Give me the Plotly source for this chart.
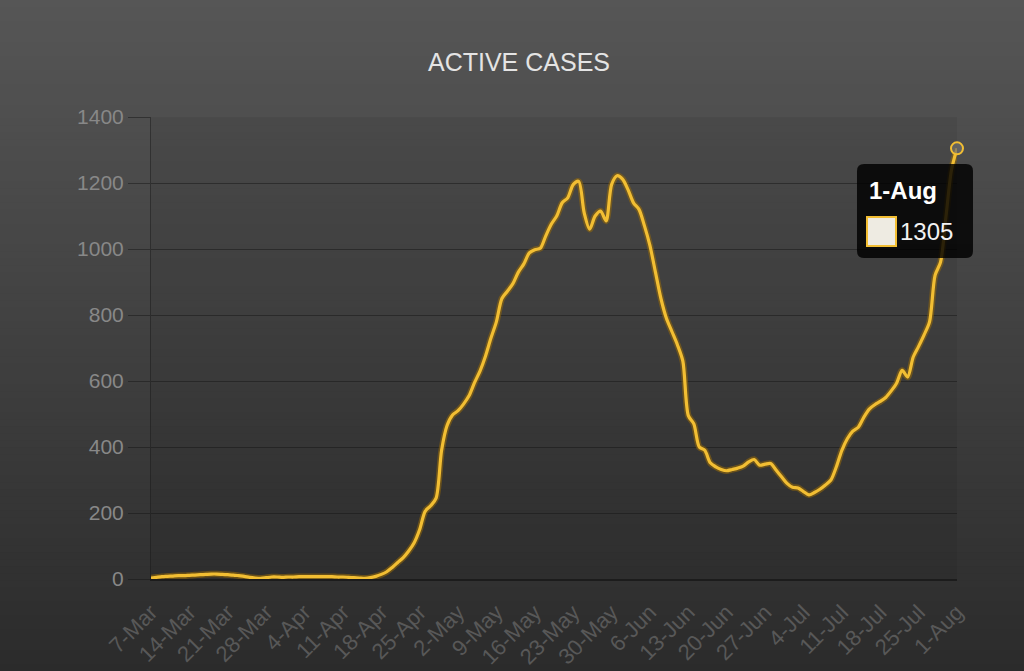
import plotly.graph_objects as go
import pandas as pd

# ---------------- data ----------------
start_date = "2020-03-07"
end_date = "2020-08-01"

active_cases = [
    3, 5, 7, 8, 9, 10, 10,                    # 7-Mar .. 13-Mar
    11, 12, 13, 14, 15, 15, 14,               # 14-Mar .. 20-Mar
    13, 12, 10, 8, 5, 3, 2,                   # 21-Mar .. 27-Mar
    4, 6, 6, 5, 6, 6, 7,                      # 28-Mar .. 3-Apr
    7, 7, 7, 7, 7, 7, 6,                      # 4-Apr .. 10-Apr
    6, 5, 4, 3, 2, 4, 8,                      # 11-Apr .. 17-Apr
    14, 22, 35, 50, 65, 85, 110,              # 18-Apr .. 24-Apr
    150, 205, 222, 245, 390, 465, 497,        # 25-Apr .. 1-May
    510, 530, 555, 595, 630, 675, 730,        # 2-May .. 8-May
    780, 850, 872, 895, 930, 955, 988,        # 9-May .. 15-May
    998, 1002, 1040, 1075, 1100, 1140, 1155,  # 16-May .. 22-May
    1195, 1205, 1110, 1060, 1100, 1115, 1085, # 23-May .. 29-May
    1195, 1222, 1212, 1180, 1140, 1120, 1070, # 30-May .. 5-Jun
    1010, 930, 850, 790, 750, 710, 660,       # 6-Jun .. 12-Jun
    495, 470, 400, 390, 352, 340, 332,        # 13-Jun .. 19-Jun
    328, 332, 336, 342, 355, 362, 345,        # 20-Jun .. 26-Jun
    348, 350, 330, 310, 290, 278, 276,        # 27-Jun .. 3-Jul
    265, 255, 262, 272, 285, 300, 340,        # 4-Jul .. 10-Jul
    390, 425, 448, 460, 490, 515, 528,        # 11-Jul .. 17-Jul
    538, 550, 570, 594, 632, 612, 672,        # 18-Jul .. 24-Jul
    705, 740, 780, 920, 960, 1100, 1240, 1305 # 25-Jul .. 1-Aug
]

tick_labels = ["7-Mar", "14-Mar", "21-Mar", "28-Mar", "4-Apr", "11-Apr",
               "18-Apr", "25-Apr", "2-May", "9-May", "16-May", "23-May",
               "30-May", "6-Jun", "13-Jun", "20-Jun", "27-Jun", "4-Jul",
               "11-Jul", "18-Jul", "25-Jul", "1-Aug"]
y_ticks = [0, 200, 400, 600, 800, 1000, 1200, 1400]

chart_title = "ACTIVE CASES"
tooltip_label = "1-Aug"
tooltip_value = "1305"

dates = pd.date_range(start_date, end_date, freq="D")
tick_dates = list(dates[::7])

# ---------------- geometry / style ----------------
W, H = 1024, 671
ML, MR, MT, MB = 151, 67, 117, 92
PW, PH = W - ML - MR, H - MT - MB

def px2x(px):
    return (px - ML) / PW

def py2y(py):
    return (H - MB - py) / PH

LINE = "#F2BE33"
GRID = "rgba(22,22,22,0.5)"
FONT = "Liberation Sans, Arial"

shapes = []
# vertical background gradient (whole page)
n_bands = 96
band_h = H / n_bands
top_g, bot_g = 86, 43
for i in range(n_bands):
    t = (i + 0.5) / n_bands
    g = round(top_g + (bot_g - top_g) * t)
    shapes.append(dict(
        type="rect", xref="paper", yref="paper", layer="below",
        x0=px2x(-5), x1=px2x(W + 5),
        y0=py2y(i * band_h + band_h + 1), y1=py2y(i * band_h - (1 if i == 0 else 0)),
        fillcolor=f"rgb({g},{g},{g})", line=dict(width=0)))
# slightly darker plot area
shapes.append(dict(type="rect", xref="paper", yref="paper", layer="below",
                   x0=0, x1=1, y0=0, y1=1,
                   fillcolor="rgba(0,0,0,0.06)", line=dict(width=0)))

# tooltip box (rounded rect, built in pixel space then mapped to paper)
def rounded_rect(x0, y0, x1, y1, r):
    pts = [
        ("M", [(x0 + r, y0)]),
        ("L", [(x1 - r, y0)]),
        ("Q", [(x1, y0), (x1, y0 + r)]),
        ("L", [(x1, y1 - r)]),
        ("Q", [(x1, y1), (x1 - r, y1)]),
        ("L", [(x0 + r, y1)]),
        ("Q", [(x0, y1), (x0, y1 - r)]),
        ("L", [(x0, y0 + r)]),
        ("Q", [(x0, y0), (x0 + r, y0)]),
    ]
    s = ""
    for cmd, pp in pts:
        s += cmd + " ".join(f"{px2x(a):.5f},{py2y(b):.5f}" for a, b in pp) + " "
    return s + "Z"

shapes.append(dict(type="path", xref="paper", yref="paper", layer="above",
                   path=rounded_rect(857, 164, 973, 258, 7),
                   fillcolor="rgba(0,0,0,0.82)", line=dict(width=0)))
shapes.append(dict(type="rect", xref="paper", yref="paper", layer="above",
                   x0=px2x(867), x1=px2x(896), y0=py2y(246), y1=py2y(217),
                   fillcolor="#EEEBE2", line=dict(color=LINE, width=2)))

annotations = [
    dict(text=chart_title, xref="paper", yref="paper",
         x=px2x(519), y=py2y(62), xanchor="center", yanchor="middle",
         showarrow=False, font=dict(family=FONT, size=25, color="#E4E4E4")),
    dict(text=f"<b>{tooltip_label}</b>", xref="paper", yref="paper",
         x=px2x(867), y=py2y(190), xanchor="left", yanchor="middle",
         showarrow=False, font=dict(family=FONT, size=24, color="#FFFFFF")),
    dict(text=tooltip_value, xref="paper", yref="paper",
         x=px2x(898), y=py2y(231), xanchor="left", yanchor="middle",
         showarrow=False, font=dict(family=FONT, size=24, color="#F2F2F2")),
]

fig = go.Figure()
# soft glow under the line
fig.add_trace(go.Scatter(
    x=dates, y=active_cases, mode="lines",
    line=dict(color="rgba(150,105,10,0.55)", width=6.5, shape="spline", smoothing=0.8),
    hoverinfo="skip", cliponaxis=False, showlegend=False))
fig.add_trace(go.Scatter(
    x=dates, y=active_cases, mode="lines",
    line=dict(color=LINE, width=3.2, shape="spline", smoothing=0.8),
    hoverinfo="skip", cliponaxis=False, showlegend=False))
# hovered point marker
fig.add_trace(go.Scatter(
    x=[dates[-1]], y=[active_cases[-1]], mode="markers",
    marker=dict(symbol="circle", size=12, color="rgba(110,110,110,0.7)",
                line=dict(color=LINE, width=2)),
    hoverinfo="skip", cliponaxis=False, showlegend=False))

fig.update_layout(
    width=W, height=H, autosize=False,
    margin=dict(l=ML, r=MR, t=MT, b=MB, pad=0, autoexpand=False),
    paper_bgcolor="#414141", plot_bgcolor="rgba(0,0,0,0)",
    shapes=shapes, annotations=annotations,
    hovermode=False, showlegend=False,
    xaxis=dict(
        type="date", range=[dates[0], dates[-1]], automargin=False,
        tickmode="array", tickvals=tick_dates, ticktext=tick_labels,
        tickangle=-45, ticks="outside", ticklen=10, tickcolor="rgba(0,0,0,0)",
        tickfont=dict(family=FONT, size=22, color="#585858"),
        showgrid=False, zeroline=False,
        showline=True, linecolor="rgba(20,20,20,0.7)", linewidth=1.5,
    ),
    yaxis=dict(
        range=[0, 1400], tickmode="array", tickvals=y_ticks, automargin=False,
        ticktext=[str(v) for v in y_ticks],
        ticks="outside", ticklen=22, tickcolor=GRID, tickwidth=1,
        tickfont=dict(family=FONT, size=21, color="#888888"),
        showgrid=True, gridcolor=GRID, gridwidth=1, zeroline=False,
        showline=True, linecolor=GRID, linewidth=1,
    ),
)

fig.write_html("out.html")
